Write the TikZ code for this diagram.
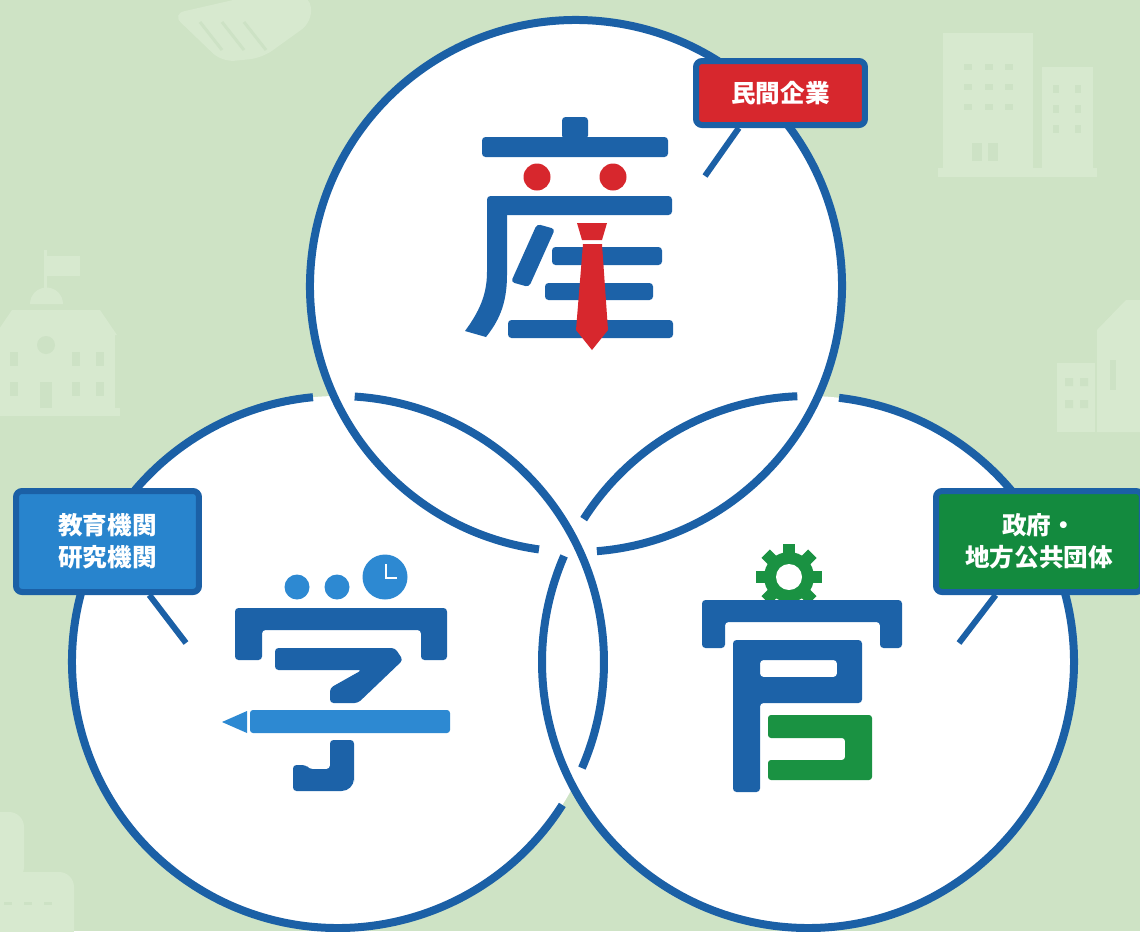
\documentclass[tikz,border=0pt]{standalone}
\usepackage{fontspec}
\newfontfamily\jpfont{Noto Sans CJK JP}
\definecolor{bggreen}{RGB}{206,227,197}
\definecolor{faint}{RGB}{215,233,207}
\definecolor{faintdark}{RGB}{205,226,197}
\definecolor{ringblue}{RGB}{27,96,166}
\definecolor{glyphblue}{RGB}{28,98,168}
\definecolor{lightblue}{RGB}{45,137,210}
\definecolor{tagred}{RGB}{215,39,45}
\definecolor{tagblue}{RGB}{40,132,205}
\definecolor{taggreen}{RGB}{19,138,62}
\definecolor{geargreen}{RGB}{26,146,66}

\begin{document}
\begin{tikzpicture}[x=0.02cm, y=-0.02cm,
    ring/.style={draw=ringblue, line width=0.16cm},
    tag/.style={draw=ringblue, line width=0.12cm, rounded corners=0.12cm, text=white,
      align=center, inner sep=0pt, font=\jpfont\bfseries\fontsize{14}{18.2}\selectfont},
    leader/.style={draw=ringblue, line width=0.12cm},
    glyphbar/.style={fill=glyphblue, rounded corners=0.07cm}]

  \clip (0,0) rectangle (1140,931);
  \useasboundingbox (0,0) rectangle (1140,931);
  \fill[bggreen] (0,0) rectangle (1140,931);

  % faint icons in the background
  % handshake
  \fill[faint, rounded corners=0.25cm] (172,14) -- (255,-5) -- (310,-5) -- (312,22) -- (262,58) -- (222,62) -- cycle;
  \foreach \x in {200,222,244}
    \draw[faintdark, line width=0.06cm] (\x,22) -- (\x+22,50);
  % school
  \fill[faint] (44,250) rectangle (47,300);
  \fill[faint] (47,256) rectangle (80,276);
  \fill[faint] (30,304) arc[start angle=180, end angle=360, radius=16.5];
  \fill[faint] (-5,335) -- (12,310) -- (100,310) -- (117,335) -- cycle;
  \fill[faint] (0,335) rectangle (115,410);
  \fill[faint] (-5,408) rectangle (120,416);
  \fill[faintdark] (46,345) circle[radius=9];
  \foreach \x in {10,72,96}
    \foreach \y in {352,382}
      \fill[faintdark] (\x,\y) rectangle ++(8,14);
  \fill[faintdark] (40,382) rectangle ++(12,26);
  % office buildings
  \fill[faint] (943,33) rectangle (1033,170);
  \fill[faint] (1042,67) rectangle (1093,170);
  \fill[faint] (938,168) rectangle (1097,177);
  \foreach \x in {964,985,1005}
    \foreach \y in {64,84,104}
      \fill[faintdark] (\x,\y) rectangle ++(8,6);
  \foreach \x in {1053,1075}
    \foreach \y in {85,105,125}
      \fill[faintdark] (\x,\y) rectangle ++(6,8);
  \fill[faintdark] (972,143) rectangle ++(10,18);
  \fill[faintdark] (988,143) rectangle ++(10,18);
  % church on the right edge
  \fill[faint] (1057,363) rectangle (1095,432);
  \fill[faint] (1097,330) -- (1126,300) -- (1140,300) -- (1140,432) -- (1097,432) -- cycle;
  \foreach \y in {378,400}
    \fill[faintdark] (1065,\y) rectangle ++(8,8) (1080,\y) rectangle ++(8,8);
  \fill[faintdark] (1110,360) rectangle ++(6,30);
  % trees in the corner
  \fill[faint, rounded corners=0.3cm] (-20,812) rectangle (24,882);
  \fill[faint, rounded corners=0.3cm] (-10,872) rectangle (74,945);
  \foreach \x in {4,24,44}
    \fill[faintdark] (\x,902) rectangle ++(8,3);

  % three circles
  \coordinate (topc) at (576,286);
  \coordinate (leftc) at (338,662);
  \coordinate (rightc) at (808,662);
  \fill[white] (topc) circle[radius=266] (leftc) circle[radius=266] (rightc) circle[radius=266];
  \foreach \c/\a/\b in {topc/98/445.5, leftc/32.5/264.6, leftc/273.6/383.5,
                        rightc/212.5/267.7, rightc/276.7/563.5}
    \draw[ring] (\c) ++(\a:266) arc[start angle=\a, end angle=\b, radius=266];

  % 産
  \fill[glyphbar] (562,117) rectangle (588,139);
  \fill[glyphbar] (482,137) rectangle (668,157);
  \fill[glyphbar] (487,196) rectangle (672,215);
  \fill[glyphblue] (487,200) -- (507,200) -- (507,275) .. controls (507,305) and (498,322) .. (486,337)
    -- (465,331) .. controls (479,312) and (487,295) .. (487,272) -- cycle;
  \fill[glyphbar] (537,224) -- (555,229) -- (529,287) -- (511,282) -- cycle;
  \fill[glyphbar] (552,247) rectangle (662,265);
  \fill[glyphbar] (545,283) rectangle (653,300);
  \fill[glyphbar] (508,320) rectangle (673,338);
  \fill[tagred] (537,177) circle[radius=13.5] (613,177) circle[radius=13.5];
  \fill[tagred] (577,223) -- (607,223) -- (602,240) -- (582,240) -- cycle;
  \fill[tagred] (583,244) -- (602,244) -- (608,330) -- (592,350) -- (576,330) -- cycle;

  % 学
  \fill[lightblue] (297,587) circle[radius=12.5] (337,587) circle[radius=12.5];
  \fill[lightblue] (385,577) circle[radius=22.5];
  \draw[white, line width=0.05cm] (386,564) -- (386,578) -- (397,578);
  \fill[glyphbar] (235,660) -- (235,608) -- (447,608) -- (447,660) -- (421,660) -- (421,630)
    -- (262,630) -- (262,660) -- cycle;
  \fill[glyphbar] (275,648) -- (395,648) -- (403,660) -- (358,703) -- (330,703) -- (330,688)
    -- (362,670) -- (275,670) -- cycle;
  \fill[lightblue, rounded corners=0.06cm] (250,710) rectangle (450,733);
  \fill[lightblue] (222,722) -- (247,711) -- (247,733) -- cycle;
  \fill[glyphblue, rounded corners=0.07cm] (330,740) -- (354,740) -- (354,778)
    [rounded corners=0.25cm] -- (354,791) -- (320,791) [rounded corners=0.07cm] -- (293,791)
    -- (293,765) -- (306,765) -- (309,769) -- (330,769) -- cycle;

  % 官
  \coordinate (gear) at (789,577);
  \foreach \a in {0,45,...,315}
    \fill[geargreen, rotate around={\a:(gear)}] (783,544) rectangle (795,560);
  \fill[geargreen] (gear) circle[radius=25];
  \fill[white] (gear) circle[radius=13];
  \fill[glyphbar] (702,648) -- (702,600) -- (902,600) -- (902,648) -- (880,648) -- (880,622)
    -- (725,622) -- (725,648) -- cycle;
  \fill[glyphbar, even odd rule] (733,792) -- (733,640) -- (862,640) -- (862,703) -- (760,703)
    -- (760,792) -- cycle (760,660) rectangle (837,677);
  \fill[geargreen, rounded corners=0.06cm] (768,715) -- (872,715) -- (872,780) -- (768,780)
    -- (768,760) -- (845,760) -- (845,738) -- (768,738) -- cycle;

  % labels
  \node[tag, fill=tagred, minimum width=3.38cm, minimum height=1.28cm] (minkan) at (780.5,93) {民間企業};
  \node[tag, fill=tagblue, minimum width=3.66cm, minimum height=2.02cm] (gakkou) at (107.5,541.5) {教育機関\\研究機関};
  \node[tag, fill=taggreen, minimum width=4.12cm, minimum height=2.02cm] (seifu) at (1039,541.5) {政府・\\地方公共団体};

  \coordinate (minkantip) at (705,176);
  \coordinate (gakkoutip) at (186,643);
  \coordinate (seifutip) at (959,643);
  \draw[leader] (minkan.220) -- (minkantip);
  \draw[leader] (gakkou.308) -- (gakkoutip);
  \draw[leader] (seifu.231) -- (seifutip);

\end{tikzpicture}
\end{document}
